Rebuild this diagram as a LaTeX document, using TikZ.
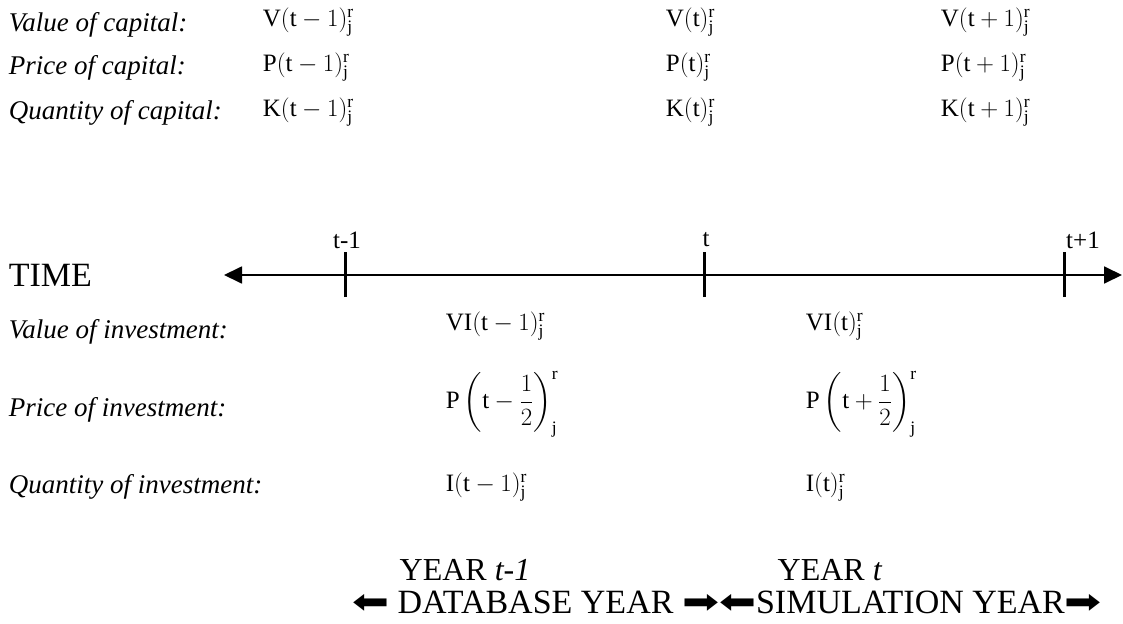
\documentclass[tikz,border=0pt]{standalone}
\usepackage{amsmath}
\usepackage{fontspec}
\setmainfont{Liberation Serif}
\newfontfamily\arrowfont{DejaVu Sans}
\usetikzlibrary{arrows.meta,positioning}
\newcommand{\tvar}{\mathrm{t}}
\newcommand{\rj}{^{\mathrm{r}}_{\mathrm{j}}}
\newcommand{\barrow}[1]{\scalebox{1.3}[1]{\arrowfont #1}}

\begin{document}
\begin{tikzpicture}[x=1pt,y=-1pt,line width=1.8pt,
 every node/.style={inner sep=0pt},>={Triangle[length=18pt,width=17pt]},
 rowlab/.style={anchor=west,font=\itshape\fontsize{27}{30}\selectfont},
 formula/.style={anchor=west,font=\fontsize{25}{28}\selectfont},
 ticklab/.style={font=\fontsize{25}{28}\selectfont},
 bigtext/.style={font=\fontsize{32}{36}\selectfont}]
\useasboundingbox (0,0) rectangle (1123,623);
% capital
\node[rowlab] (vcaplab) at (8,25) {Value of capital:};
\node[rowlab] (pcaplab) at (8,68) {Price of capital:};
\node[rowlab] (kcaplab) at (8,113) {Quantity of capital:};
\node[formula] (vprev) at (262,22) {$\mathrm{V}(\tvar-1)\rj$};
\node[formula] (pprev) at (262,67) {$\mathrm{P}(\tvar-1)\rj$};
\node[formula] (kprev) at (262,112) {$\mathrm{K}(\tvar-1)\rj$};
\node[formula] (vnow) at (665,22) {$\mathrm{V}(\tvar)\rj$};
\node[formula] (pnow) at (665,67) {$\mathrm{P}(\tvar)\rj$};
\node[formula] (know) at (665,112) {$\mathrm{K}(\tvar)\rj$};
\node[formula] (vnext) at (940,22) {$\mathrm{V}(\tvar+1)\rj$};
\node[formula] (pnext) at (940,67) {$\mathrm{P}(\tvar+1)\rj$};
\node[formula] (knext) at (940,112) {$\mathrm{K}(\tvar+1)\rj$};
% time axis
\node[bigtext,anchor=west,font=\fontsize{34}{38}\selectfont] (timelab) at (8,275) {TIME};
\coordinate (axl) at (224,275);
\coordinate (axr) at (1122,275);
\draw[<->] (axl) -- (axr);
\foreach \name/\x/\lab/\dx in {tprev/345/t-1/2,tnow/704/t/2,tnext/1064/t+1/19}{
  \coordinate (\name) at (\x,275);
  \draw[line width=3pt] ([yshift=-22pt]\name) -- ([yshift=23pt]\name);
  \node[ticklab] (\name lab) at (\x+\dx,240) {\lab};
}
% investment
\node[rowlab] (vinvlab) at (8,332) {Value of investment:};
\node[rowlab] (pinvlab) at (8,410) {Price of investment:};
\node[rowlab] (qinvlab) at (8,487) {Quantity of investment:};
\node[formula] (viprev) at (445,326) {$\mathrm{VI}(\tvar-1)\rj$};
\node[formula] (piprev) at (445,404) {$\mathrm{P}\left(\tvar-\dfrac{1}{2}\right)\rj$};
\node[formula] (iprev) at (445,487) {$\mathrm{I}(\tvar-1)\rj$};
\node[formula] (vinow) at (805,326) {$\mathrm{VI}(\tvar)\rj$};
\node[formula] (pinow) at (805,404) {$\mathrm{P}\left(\tvar+\dfrac{1}{2}\right)\rj$};
\node[formula] (inow) at (805,487) {$\mathrm{I}(\tvar)\rj$};
% years
\node[bigtext] (yprev) at (465,570) {YEAR \textit{t-1}};
\node[bigtext] (ynow) at (830,570) {YEAR \textit{t}};
\node[bigtext,font=\fontsize{34}{38}\selectfont] (yband) at (727,602) {\barrow{⬅} DATABASE YEAR \barrow{➡}\barrow{⬅}SIMULATION YEAR\barrow{➡}};
\end{tikzpicture}
\end{document}
